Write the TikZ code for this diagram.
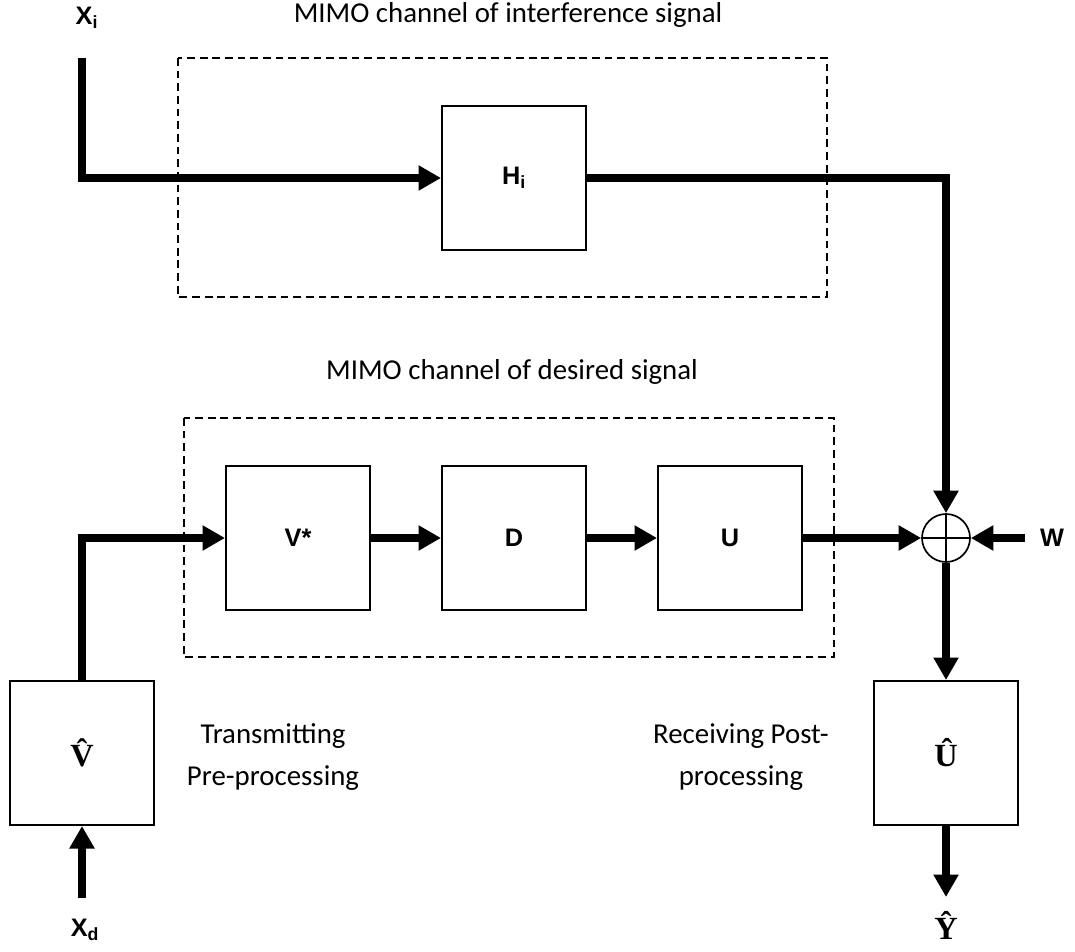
\documentclass[tikz,border=0pt]{standalone}
\usepackage{fontspec}
\setmainfont{Carlito}
\newfontfamily\symfont{Liberation Sans}
\newfontfamily\hatfont{Liberation Serif}
\usetikzlibrary{arrows.meta}

\begin{document}
\begin{tikzpicture}[
        x=0.025cm,
        y=-0.025cm,
        every node/.style={font=\fontsize{20.5}{30}\selectfont},
        block/.style={
            draw,
            line width=1.4pt,
            minimum size=3.6cm,
            inner sep=0pt
        },
        region/.style={
            draw,
            line width=1pt,
            dash pattern=on 5.5pt off 3.5pt
        },
        sum/.style={
            circle,
            draw,
            line width=1.2pt,
            minimum size=1.2cm,
            inner sep=0pt
        },
        sym/.style={font=\symfont\bfseries\fontsize{18}{20}\selectfont},
        hatsym/.style={font=\hatfont\bfseries\fontsize{23}{25}\selectfont},
        signal/.style={line width=5.7pt, -{Triangle[length=16pt,width=17pt]}}
    ]
    \useasboundingbox (0,0) rectangle (1075,951);

    % Interference channel
    \node (ilabel) at (508,15) {MIMO channel of interference signal};
    \draw[region] (178,58) rectangle (827,297);
    \node[sym] (xi) at (87,18) {X\textsubscript{i}};
    \coordinate (xistart) at (82,58);
    \node[block] (hi) at (514,178) {};
    \node[sym] at (hi) {H\textsubscript{i}};

    % Desired channel
    \node (dlabel) at (512,372) {MIMO channel of desired signal};
    \draw[region] (184,418) rectangle (834,657);
    \node[block] (vstar) at (298,538) {};
    \node[sym] at (vstar) {V*};
    \node[block] (d) at (514,538) {};
    \node[sym] at (d) {D};
    \node[block] (u) at (730,538) {};
    \node[sym] at (u) {U};

    % Sum and noise
    \node[sum] (sum) at (946,538) {};
    \draw[line width=1.2pt] (sum.north) -- (sum.south);
    \draw[line width=1.2pt] (sum.west) -- (sum.east);
    \node[sym] (w) at (1052,538) {W};
    \coordinate (wstart) at (1025,538);

    % Pre- and post-processing
    \node[block] (vhat) at (82,753) {};
    \node[hatsym] at (vhat) {\^{V}};
    \node[align=center] (txlabel) at (273,757) {Transmitting\\Pre-processing};
    \node[block] (uhat) at (946,753) {};
    \node[hatsym] at (uhat) {\^{U}};
    \node[align=center] (rxlabel) at (741,757) {Receiving Post-\\processing};
    \coordinate (xdstart) at (82,898);
    \node[sym] (xd) at (85,930) {X\textsubscript{d}};
    \coordinate (yend) at (946,897);
    \node[hatsym] (yhat) at (946,925) {\^{Y}};

    % Signals
    \draw[signal] (xistart) |- (hi);
    \draw[signal] (hi) -| (sum);
    \draw[signal] (xdstart) -- (vhat);
    \draw[signal] (vhat) |- (vstar);
    \draw[signal] (vstar) -- (d);
    \draw[signal] (d) -- (u);
    \draw[signal] (u) -- (sum);
    \draw[signal] (wstart) -- (sum);
    \draw[signal] (sum) -- (uhat);
    \draw[signal] (uhat) -- (yend);

\end{tikzpicture}
\end{document}
